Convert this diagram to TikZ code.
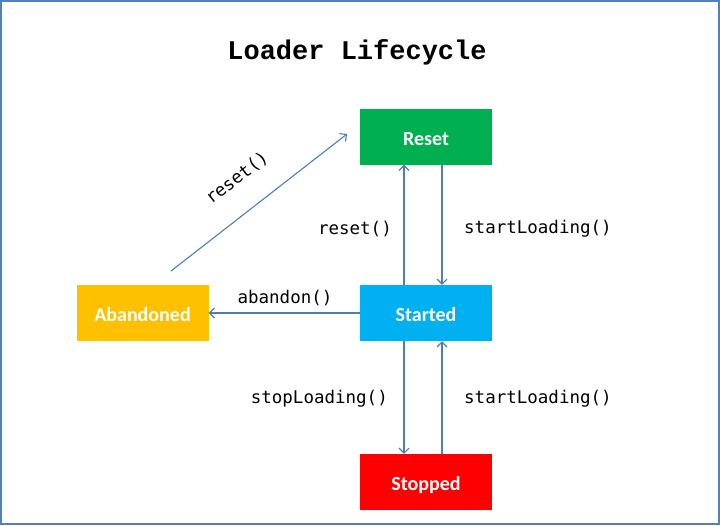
\documentclass[tikz,border=0pt]{standalone}
\usepackage{fontspec}
\setmainfont{Carlito}
\newfontfamily\titlefont{Liberation Mono}
\newfontfamily\codefont{DejaVu Sans Mono}
\usetikzlibrary{arrows.meta}
\definecolor{frameblue}{HTML}{4F81BD}
\definecolor{arrowblue}{HTML}{4A7EBB}
\definecolor{resetgreen}{HTML}{00B050}
\definecolor{startedblue}{HTML}{00B0F0}
\definecolor{abandonedorange}{HTML}{FFC000}
\definecolor{stoppedred}{HTML}{FF0000}
\tikzset{
  statebox/.style={minimum width=132pt, minimum height=56pt, inner sep=0pt, text=white,
    text height=17pt, text depth=0pt,
    font=\fontsize{20}{24}\selectfont\bfseries},
  conn/.style={draw=arrowblue, line width=1.1pt, -{Straight Barb[length=5pt,width=10pt,line width=1.1pt]}},
  codelabel/.style={font=\codefont\fontsize{17.5}{20}\selectfont, inner sep=0pt}
}
\begin{document}
\begin{tikzpicture}[x=1pt,y=-1pt]
\useasboundingbox (0,0) rectangle (720,525);
\draw[frameblue, line width=2pt] (1,1) rectangle (719,524);
\node[font=\titlefont\bfseries\fontsize{27}{30}\selectfont] (title) at (357,52) {Loader Lifecycle};
\node[statebox, fill=resetgreen] (reset) at (426,136.5) {Reset};
\node[statebox, fill=startedblue] (started) at (426,313) {Started};
\node[statebox, fill=abandonedorange] (abandoned) at (142.5,313) {Abandoned};
\node[statebox, fill=stoppedred] (stopped) at (426,482) {Stopped};
\coordinate (diagstart) at (171,271);
\coordinate (diagend) at (347,134);
\draw[conn] (diagstart) -- (diagend);
\node[codelabel, rotate=37.9] (lreset2) at (237,178) {reset()};
\draw[conn] ([xshift=-22pt]started.north) -- ([xshift=-22pt]reset.south);
\draw[conn] ([xshift=16pt]reset.south) -- ([xshift=16pt]started.north);
\draw[conn] (started.west) -- (abandoned.east);
\draw[conn] ([xshift=-22pt]started.south) -- ([xshift=-22pt]stopped.north);
\draw[conn] ([xshift=16pt]stopped.north) -- ([xshift=16pt]started.south);
\node[codelabel, anchor=east] (lreset) at (392,229) {reset()};
\node[codelabel, anchor=west] (lstart1) at (464,229) {startLoading()};
\node[codelabel] (labandon) at (285,298) {abandon()};
\node[codelabel, anchor=east] (lstop) at (388,399) {stopLoading()};
\node[codelabel, anchor=west] (lstart2) at (464,399) {startLoading()};
\end{tikzpicture}
\end{document}
